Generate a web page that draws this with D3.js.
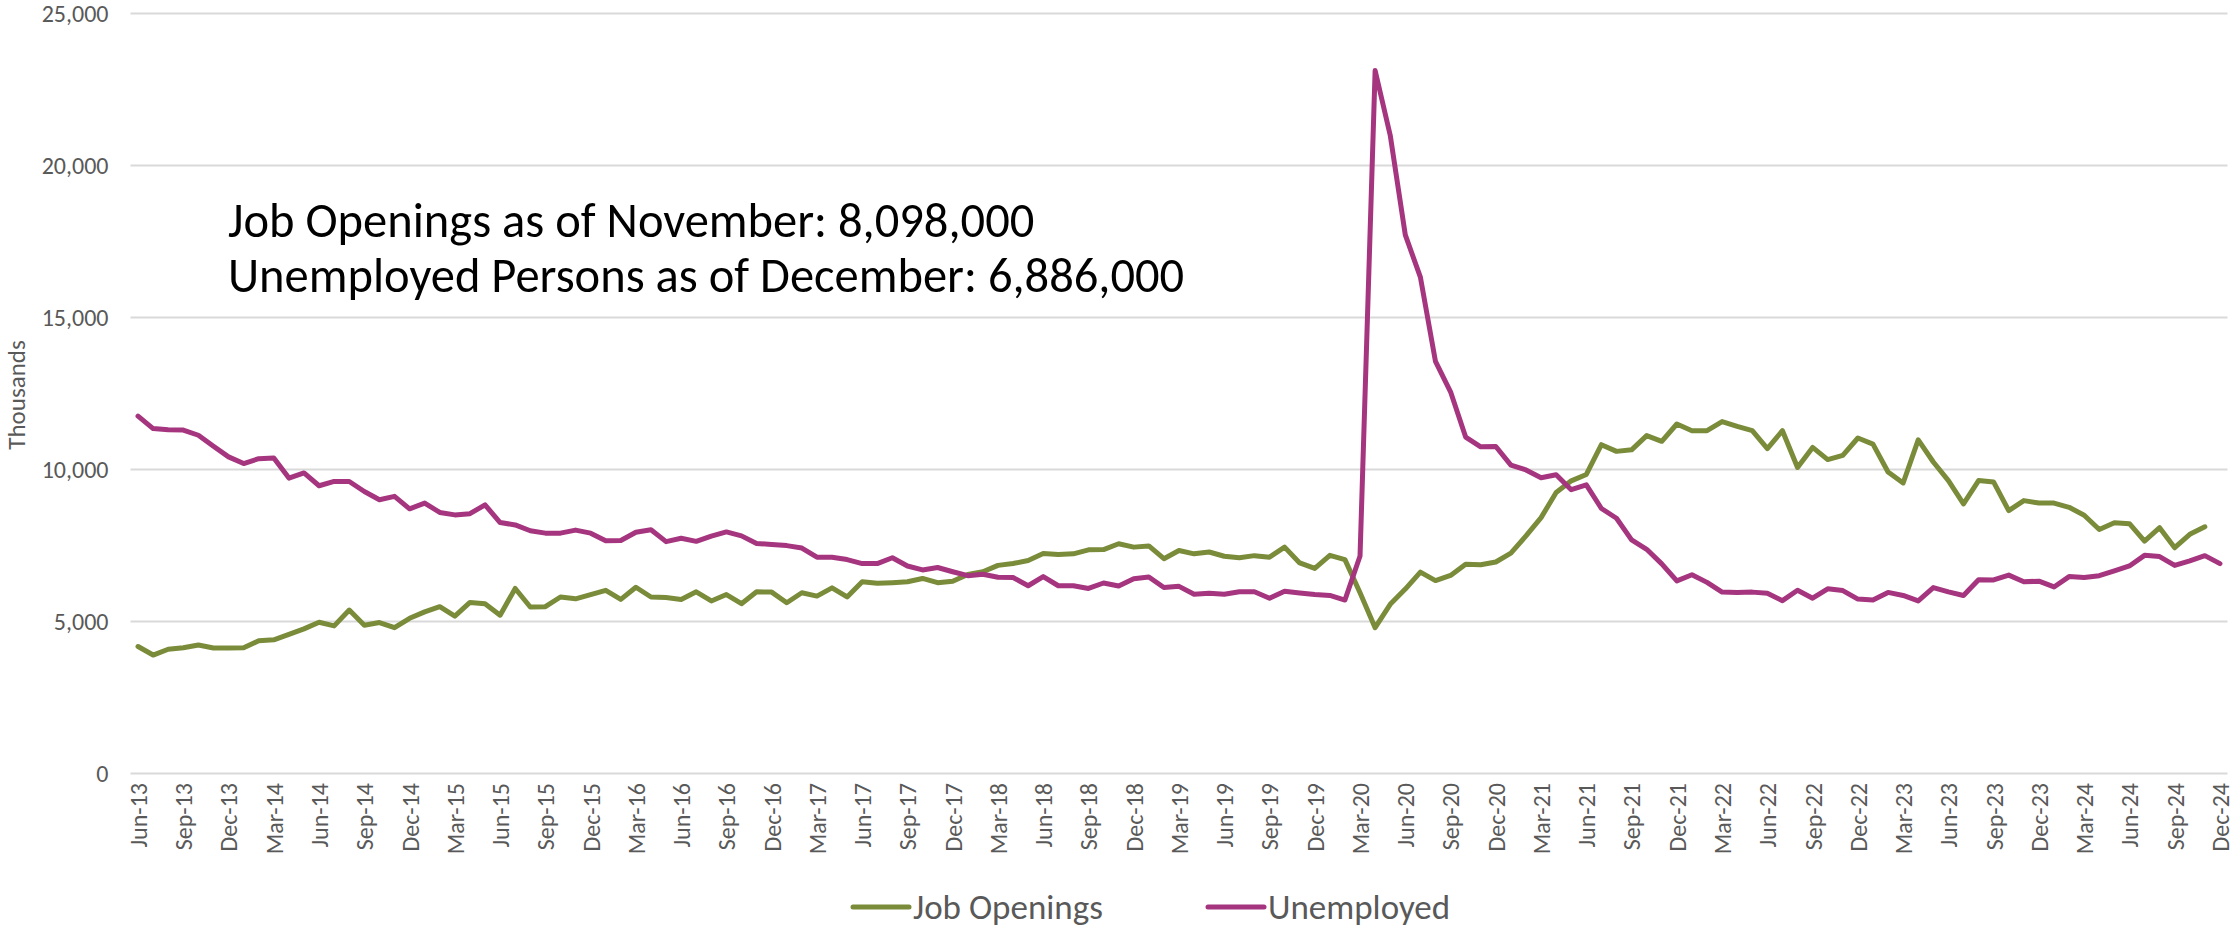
<!DOCTYPE html>
<html>
<head>
<meta charset="utf-8">
<script src="https://cdn.jsdelivr.net/npm/d3@7"></script>
<style>
  html, body { margin: 0; padding: 0; background: #ffffff; }
  svg { display: block; }
  text { font-family: Carlito, Calibri, Lato, "Open Sans", sans-serif; }
</style>
</head>
<body>
<svg id="chart" width="2236" height="928"></svg>
<script>
// ---- Data (thousands) ----
const firstMonth = new Date(2013, 5, 1);   // Jun-13
const lastMonth  = new Date(2024, 11, 1);  // Dec-24
const categories = d3.timeMonth.range(firstMonth, d3.timeMonth.offset(lastMonth, 1)).map(d3.timeFormat("%b-%y"));

// Job Openings: Jun-13 .. Nov-24
const jobOpenings = [
  4160, 3880, 4070, 4120, 4210, 4110, 4110,
  4120, 4350, 4380, 4560, 4740, 4960, 4840, 5360, 4860, 4950, 4780, 5090,
  5300, 5470, 5160, 5610, 5570, 5190, 6070, 5460, 5470, 5790, 5730, 5870,
  6010, 5710, 6110, 5790, 5770, 5710, 5960, 5660, 5870, 5570, 5960, 5950,
  5600, 5930, 5820, 6090, 5790, 6290, 6240, 6260, 6290, 6400, 6260, 6310,
  6530, 6620, 6830, 6890, 6990, 7220, 7190, 7210, 7340, 7350, 7540, 7430,
  7470, 7050, 7320, 7210, 7270, 7130, 7080, 7150, 7100, 7430, 6910, 6730,
  7160, 7020, 5930, 4780, 5550, 6050, 6610, 6330, 6500, 6870, 6850, 6940,
  7230, 7800, 8400, 9230, 9610, 9820, 10800, 10580, 10630, 11100, 10910, 11480,
  11260, 11260, 11560, 11400, 11260, 10670, 11260, 10050, 10710, 10310, 10450, 11020,
  10820, 9900, 9540, 10960, 10230, 9620, 8850, 9620, 9570, 8630, 8960, 8880,
  8880, 8740, 8480, 8010, 8230, 8200, 7630, 8070, 7410, 7850, 8098
];

// Unemployed: Jun-13 .. Dec-24
const unemployed = [
  11740, 11330, 11290, 11280, 11110, 10750, 10400,
  10180, 10340, 10360, 9700, 9870, 9450, 9590, 9590, 9260, 8990, 9100, 8690,
  8880, 8570, 8490, 8530, 8820, 8240, 8160, 7970, 7890, 7890, 7990, 7890,
  7640, 7650, 7920, 8000, 7610, 7720, 7620, 7790, 7930, 7800, 7550, 7520,
  7480, 7400, 7100, 7100, 7020, 6890, 6890, 7080, 6810, 6680, 6760, 6620,
  6490, 6540, 6440, 6430, 6160, 6460, 6160, 6160, 6070, 6250, 6150, 6390,
  6450, 6100, 6140, 5880, 5910, 5880, 5960, 5960, 5750, 5980, 5920, 5870,
  5840, 5690, 7140, 23110, 20980, 17700, 16310, 13540, 12540, 11050, 10730, 10740,
  10130, 9970, 9710, 9810, 9320, 9480, 8700, 8380, 7670, 7360, 6880, 6320,
  6520, 6270, 5950, 5940, 5950, 5910, 5670, 6010, 5750, 6060, 6000, 5720,
  5690, 5940, 5840, 5660, 6100, 5960, 5840, 6360, 6350, 6510, 6290, 6310,
  6120, 6460, 6430, 6490, 6650, 6810, 7160, 7120, 6830, 6980, 7150, 6886
];

const xTickLabels = [
  "Jun-13","Sep-13","Dec-13","Mar-14","Jun-14","Sep-14","Dec-14","Mar-15","Jun-15","Sep-15","Dec-15",
  "Mar-16","Jun-16","Sep-16","Dec-16","Mar-17","Jun-17","Sep-17","Dec-17","Mar-18","Jun-18","Sep-18",
  "Dec-18","Mar-19","Jun-19","Sep-19","Dec-19","Mar-20","Jun-20","Sep-20","Dec-20","Mar-21","Jun-21",
  "Sep-21","Dec-21","Mar-22","Jun-22","Sep-22","Dec-22","Mar-23","Jun-23","Sep-23","Dec-23","Mar-24",
  "Jun-24","Sep-24","Dec-24"
];
const yTickValues = [0, 5000, 10000, 15000, 20000, 25000];

const seriesNames = ["Job Openings", "Unemployed"];
const seriesColors = ["#7a8b3a", "#a5357e"];
const annotationLines = [
  "Job Openings as of November: 8,098,000",
  "Unemployed Persons as of December: 6,886,000"
];
const yAxisTitle = "Thousands";

// ---- Layout ----
const svg = d3.select("#chart");
const plotLeft = 130.5, plotRight = 2227.5, plotTop = 13, plotBottom = 773;

const x = d3.scalePoint().domain(categories).range([plotLeft, plotRight]).padding(0.5);
const y = d3.scaleLinear().domain([0, 25000]).range([plotBottom, plotTop]);

const textGray = "#595959";
const tickFont = 24;

// gridlines + y labels
const yAxis = d3.axisLeft(y).tickValues(yTickValues).tickFormat(d3.format(","))
  .tickSize(-(plotRight - plotLeft)).tickPadding(22);
const gy = svg.append("g").attr("transform", `translate(${plotLeft},0)`).call(yAxis);
gy.select(".domain").remove();
gy.selectAll(".tick line").attr("stroke", "#d9d9d9").attr("stroke-width", 2);
gy.selectAll(".tick text").attr("fill", textGray).attr("font-size", tickFont)
  .attr("dy", "0.34em")
  .style("font-family", "Carlito, Calibri, Lato, sans-serif");

// x axis labels
const xAxis = d3.axisBottom(x).tickValues(xTickLabels).tickSize(0).tickPadding(0);
const gx = svg.append("g").attr("transform", `translate(0,${plotBottom})`).call(xAxis);
gx.select(".domain").remove();
gx.selectAll(".tick text")
  .attr("fill", textGray).attr("font-size", tickFont)
  .style("font-family", "Carlito, Calibri, Lato, sans-serif")
  .attr("text-anchor", "end")
  .attr("dy", "0.35em")
  .attr("transform", "translate(0,10) rotate(-90)")
  .attr("x", 0).attr("y", 0);

// y axis title
svg.append("text")
  .attr("transform", `translate(25,${(plotTop + plotBottom) / 2 + 2}) rotate(-90)`)
  .attr("text-anchor", "middle")
  .attr("fill", textGray).attr("font-size", 25)
  .text(yAxisTitle);

// lines
const seriesData = [jobOpenings, unemployed];
const line = d3.line().x((d, i) => x(categories[i])).y(d => y(d));
seriesData.forEach((vals, k) => {
  svg.append("path")
    .datum(vals)
    .attr("d", line)
    .attr("fill", "none")
    .attr("stroke", seriesColors[k])
    .attr("stroke-width", 5)
    .attr("stroke-linejoin", "round")
    .attr("stroke-linecap", "round");
});

// annotation
const ann = svg.append("text").attr("fill", "#000").attr("font-size", 48.5);
annotationLines.forEach((t, i) => {
  ann.append("tspan").attr("x", 228).attr("y", 237 + i * 55).text(t);
});

// legend
const legendY = 907;
const legendItems = [{x: 853}, {x: 1208}];
seriesNames.forEach((name, k) => {
  const g = svg.append("g").attr("transform", `translate(${legendItems[k].x},${legendY})`);
  g.append("line").attr("x1", 0).attr("x2", 56).attr("y1", 0).attr("y2", 0)
    .attr("stroke", seriesColors[k]).attr("stroke-width", 5).attr("stroke-linecap", "round");
  g.append("text").attr("x", 60).attr("y", 0).attr("dy", "0.35em")
    .attr("fill", textGray).attr("font-size", 35).text(name);
});
</script>
</body>
</html>
